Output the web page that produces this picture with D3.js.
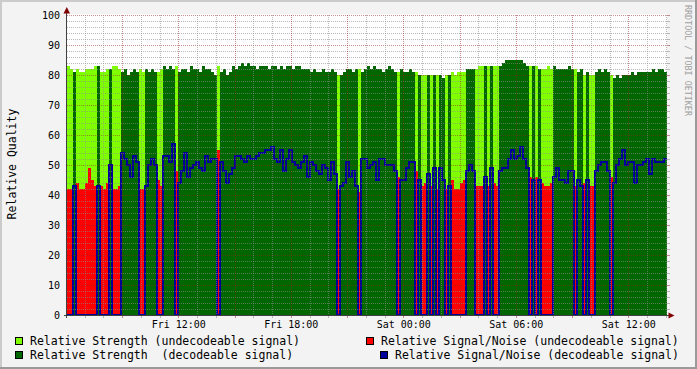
<!DOCTYPE html>
<html>
<head>
<meta charset="utf-8">
<script src="https://cdn.jsdelivr.net/npm/d3@7"></script>
<style>
    body { margin: 0; background: #f3f3f3; }
    svg { display: block; font-family: "DejaVu Sans Mono", monospace; }
</style>
</head>
<body>
<script>
//samples every 9.6 minutes, Fri 06:04 to Sat 14:04
const startTime = new Date(2024, 4, 10, 6, 4);
const stepMinutes = 9.6;

//1 = decodeable signal, 0 = undecodeable
const decodeable = [
    0,0,1,0,0,0,0,0,0,0, 1,0,0,0,1,0,0,0,1,1,
    1,1,1,1,0,0,1,1,1,1, 0,0,1,1,1,1,0,1,1,1,
    1,1,1,1,1,1,1,1,1,1, 0,1,1,1,1,1,1,1,1,1,
    1,1,1,1,1,1,1,1,1,1, 1,1,1,1,1,1,1,1,1,1,
    1,1,1,1,1,1,1,1,1,1, 0,1,1,1,1,1,1,0,1,1,
    1,1,1,1,1,1,1,1,1,1, 0,1,1,1,1,1,0,1,0,0,
    1,0,1,0,1,1,0,1,0,0, 0,0,0,1,1,1,0,0,0,1,
    0,1,0,0,1,1,1,1,1,1, 1,1,1,1,0,1,0,1,0,0,
    0,0,1,1,1,1,1,1,1,0, 1,1,0,1,0,0,1,1,1,1,
    1,0,1,1,1,1,1,1,1,1, 1,1,1,1,1,1,1,1,1,1
];

//relative strength
const strength = [
    83,82,81,82,81,81,82,82,82,83, 83,81,81,82,82,83,83,82,81,82,
    80,81,82,81,82,81,82,81,82,81, 81,82,83,82,83,82,83,81,82,82,
    81,83,82,82,81,83,82,82,81,80, 83,81,82,80,81,83,82,83,84,83,
    84,83,83,82,83,83,83,82,83,83, 82,83,82,83,83,82,83,83,82,82,
    82,81,82,81,81,82,81,81,82,81, 80,80,81,82,82,81,82,82,81,82,
    83,82,83,82,82,81,82,83,82,81, 81,82,81,81,82,81,81,80,80,80,
    80,80,80,80,80,79,80,80,81,80, 81,81,81,82,82,82,82,83,83,83,
    83,83,83,83,83,84,85,85,85,85, 85,85,84,83,83,83,83,82,82,82,
    83,82,83,82,82,82,82,83,82,82, 81,82,80,81,80,80,81,82,81,82,
    81,80,79,80,79,80,80,80,81,80, 81,81,81,81,81,82,81,82,82,81
];

//relative signal/noise
const snr = [
    42,42,43,44,42,42,44,49,45,43, 43,43,42,44,50,42,42,43,54,52,
    50,46,53,51,42,42,43,50,52,50, 45,43,53,53,51,57,48,44,48,54,
    46,49,50,51,49,48,53,51,52,52, 55,51,48,44,47,49,53,53,52,51,
    53,52,52,53,54,54,55,55,56,52, 51,55,48,52,55,51,50,49,51,53,
    46,51,50,48,47,50,49,45,51,47, 42,43,44,51,46,48,43,41,52,52,
    49,50,51,45,52,52,50,50,50,48, 46,45,45,49,51,51,48,45,43,44,
    47,43,49,42,49,45,42,43,45,42, 42,44,45,48,50,48,43,43,43,46,
    43,49,44,43,48,49,49,52,55,52, 53,56,52,49,46,45,46,45,44,43,
    43,44,46,49,45,45,44,48,48,43, 45,43,44,45,43,43,48,50,51,51,
    48,46,44,50,52,55,50,51,51,44, 50,50,51,52,47,52,51,51,51,52
];

const yTicks = [0, 10, 20, 30, 40, 50, 60, 70, 80, 90, 100];
const legendLabels = [
    "Relative Strength (undecodeable signal)",
    "Relative Strength  (decodeable signal)",
    "Relative Signal/Noise (undecodeable signal)",
    "Relative Signal/Noise (decodeable signal)"
];
const legendColors = ["#80ff00", "#006600", "#ff0000", "#000099"];

let width = 697,
    height = 369;

let svg = d3.select("body")
    .append("svg")
    .attr("width", width)
    .attr("height", height);

//frame with rrdtool style shading
svg.append("rect").attr("width", width).attr("height", height).attr("fill", "#f3f3f3");
svg.append("rect").attr("width", width).attr("height", 2).attr("fill", "#cbcbcb");
svg.append("rect").attr("width", 2).attr("height", height).attr("fill", "#cbcbcb");
svg.append("rect").attr("y", height - 2).attr("width", width).attr("height", 2).attr("fill", "#9a9a9a");
svg.append("rect").attr("x", width - 2).attr("width", 2).attr("height", height).attr("fill", "#9a9a9a");

let endTime = new Date(+startTime + strength.length * stepMinutes * 60000);

let x = d3.scaleTime()
    .domain([startTime, endTime])
    .range([67, 667]);

let y = d3.scaleLinear()
    .domain([0, 100])
    .range([315, 15]);

//canvas
svg.append("rect")
    .attr("x", 67).attr("y", 14)
    .attr("width", 600).attr("height", 301)
    .attr("fill", "#ffffff");

let rows = strength.map(function (s, i) {
    let d = decodeable[i];
    return {
        t: new Date(+startTime + i * stepMinutes * 60000),
        sU: d ? 0 : s,
        sD: d ? s : 0,
        nU: d ? 0 : snr[i],
        nD: d ? snr[i] : 0
    };
});
rows.push(Object.assign({}, rows[rows.length - 1], { t: endTime }));

function stepArea(key) {
    return d3.area()
        .x(function (d) { return x(d.t); })
        .y0(y(0))
        .y1(function (d) { return y(d[key]); })
        .curve(d3.curveStepAfter);
}

let plot = svg.append("g").attr("shape-rendering", "crispEdges");

plot.append("path").datum(rows).attr("d", stepArea("sU")).attr("fill", legendColors[0]);
plot.append("path").datum(rows).attr("d", stepArea("sD")).attr("fill", legendColors[1]);
plot.append("path").datum(rows).attr("d", stepArea("nU")).attr("fill", legendColors[2]);

plot.append("path")
    .datum(rows)
    .attr("d", d3.line()
        .x(function (d) { return x(d.t); })
        .y(function (d) { return Math.round(y(d.nD)); })
        .curve(d3.curveStepAfter))
    .attr("fill", "none")
    .attr("stroke", legendColors[3])
    .attr("stroke-width", 2);

//grid on top of the data
let grid = svg.append("g").attr("shape-rendering", "crispEdges");
let minorCol = "rgba(140,140,140,0.6)",
    majorCol = "rgba(150,30,30,0.5)";

y.ticks(50).forEach(function (v) {
    let major = v % 10 === 0;
    let yy = Math.round(y(v)) + 0.5;
    grid.append("line")
        .attr("x1", 67).attr("x2", 667).attr("y1", yy).attr("y2", yy)
        .attr("stroke", major ? majorCol : minorCol)
        .attr("stroke-dasharray", "1,1");
    grid.append("line")
        .attr("x1", 667).attr("x2", 670).attr("y1", yy).attr("y2", yy)
        .attr("stroke", major ? majorCol : minorCol);
});

d3.timeHour.range(startTime, endTime).forEach(function (t) {
    let major = t.getHours() % 3 === 0;
    let xx = Math.round(x(t)) + 0.5;
    grid.append("line")
        .attr("x1", xx).attr("x2", xx).attr("y1", 15).attr("y2", 315)
        .attr("stroke", major ? majorCol : minorCol)
        .attr("stroke-dasharray", "1,1");
    grid.append("line")
        .attr("x1", xx).attr("x2", xx).attr("y1", 315).attr("y2", 318)
        .attr("stroke", major ? majorCol : minorCol);
});

//axes lines and arrows
svg.append("line")
    .attr("x1", 64).attr("x2", 670).attr("y1", 315.5).attr("y2", 315.5)
    .attr("stroke", "#404040");
svg.append("line")
    .attr("x1", 66.5).attr("x2", 66.5).attr("y1", 318).attr("y2", 11)
    .attr("stroke", "#404040");
svg.append("path").attr("d", "M63.5,13.5L70,13.5L66.8,7Z").attr("fill", "#800000");
svg.append("path").attr("d", "M668.5,312.5L674.5,315.5L668.5,318.5Z").attr("fill", "#800000");

//axis labels
let yAxis = svg.append("g")
    .attr("transform", "translate(67,0)")
    .call(d3.axisLeft(y).tickValues(yTicks).tickSize(0).tickPadding(7));
yAxis.select(".domain").remove();
yAxis.selectAll("text")
    .attr("font-family", "DejaVu Sans Mono")
    .attr("font-size", "10px")
    .attr("fill", "#000");

let xAxis = svg.append("g")
    .attr("transform", "translate(0,315)")
    .call(d3.axisBottom(x)
        .ticks(d3.timeHour.every(6))
        .tickFormat(d3.timeFormat("%a %H:%M"))
        .tickSize(0)
        .tickPadding(6));
xAxis.select(".domain").remove();
xAxis.selectAll("text")
    .attr("font-family", "DejaVu Sans Mono")
    .attr("font-size", "10px")
    .attr("fill", "#000");

//vertical title
svg.append("text")
    .attr("transform", "translate(16,164) rotate(-90)")
    .attr("text-anchor", "middle")
    .attr("font-size", "11.5px")
    .attr("fill", "#000")
    .text("Relative Quality");

//watermark
svg.append("text")
    .attr("transform", "translate(685,5) rotate(90)")
    .attr("font-size", "8.4px")
    .attr("fill", "#a0a0a0")
    .text("RRDTOOL / TOBI OETIKER");

//legend
let legendPos = [[15, 337], [15, 351], [366, 337], [380, 351]];
legendLabels.forEach(function (label, i) {
    let p = legendPos[i];
    svg.append("rect")
        .attr("x", p[0] + 0.5).attr("y", p[1] + 0.5)
        .attr("width", 7).attr("height", 7)
        .attr("fill", legendColors[i])
        .attr("stroke", "#000");
    svg.append("text")
        .attr("x", p[0] + 15).attr("y", p[1] + 8)
        .attr("font-size", "11.5px")
        .attr("fill", "#000")
        .style("white-space", "pre")
        .text(label);
});
</script>
</body>
</html>
